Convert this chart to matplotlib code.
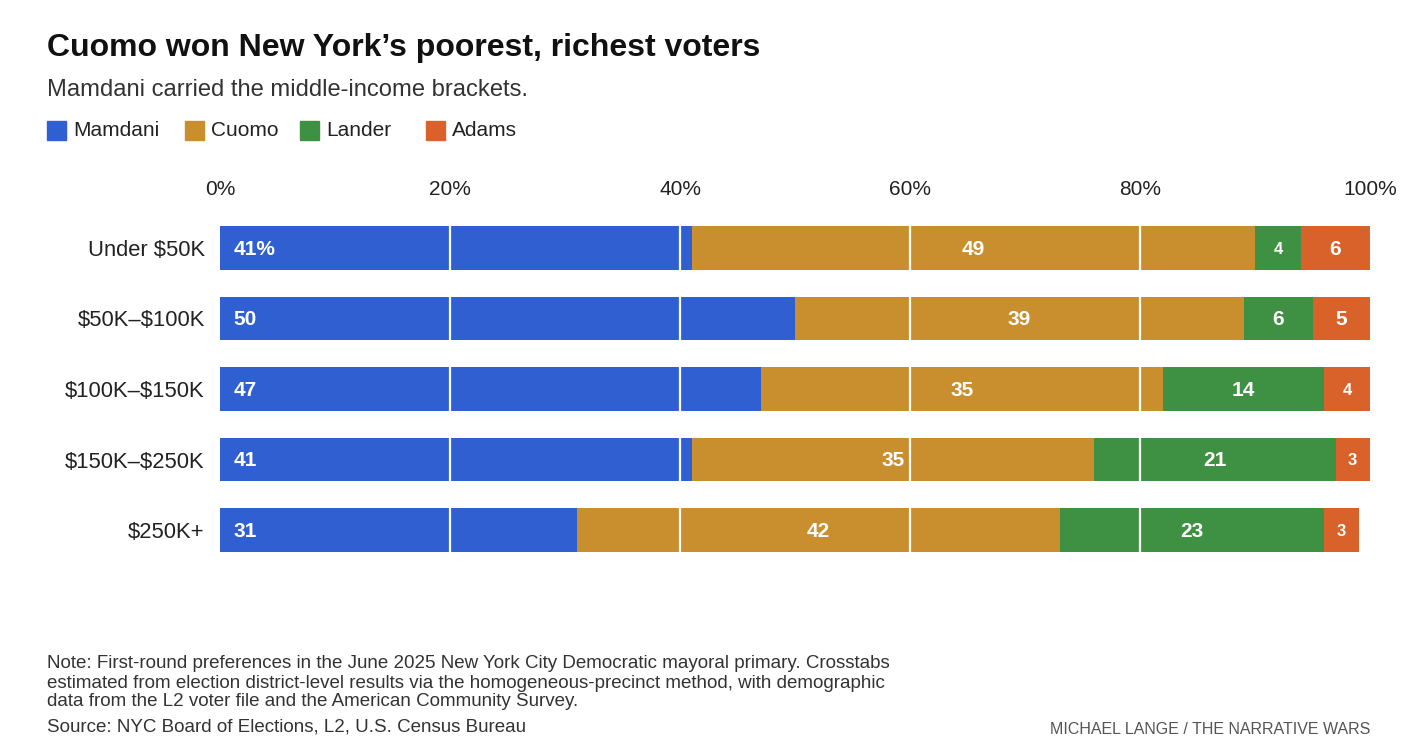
import matplotlib.pyplot as plt
from matplotlib.patches import Rectangle

plt.rcParams['font.family'] = ['Liberation Sans', 'DejaVu Sans']
plt.rcParams['text.parse_math'] = False

brackets = ["Under $50K", "$50K–$100K", "$100K–$150K", "$150K–$250K", "$250K+"]
candidates = ["Mamdani", "Cuomo", "Lander", "Adams"]
mamdani = [41, 50, 47, 41, 31]
cuomo = [49, 39, 35, 35, 42]
lander = [4, 6, 14, 21, 23]
adams = [6, 5, 4, 3, 3]
colors = ["#2f5fd0", "#c98f2e", "#3e9142", "#d9622b"]
ticks = [0, 20, 40, 60, 80, 100]

W, H = 1420, 750
fig = plt.figure(figsize=(W / 100, H / 100), dpi=100)

# axes placed in pixel terms: 0% at x=220, 100% at x=1370
ax = fig.add_axes([220 / W, 1 - 565.25 / H, 1150 / W, 352.5 / H])

series = [mamdani, cuomo, lander, adams]
left = [0] * len(brackets)
for k, vals in enumerate(series):
    ax.barh(range(len(brackets)), vals, left=left, height=0.62,
            color=colors[k], zorder=1)
    for i, v in enumerate(vals):
        if k == 0:
            txt = f"{v}%" if i == 0 else f"{v}"
            ax.text(left[i] + 1.2, i + 0.02, txt, ha="left", va="center",
                    color="white", fontsize=15, fontweight="bold", zorder=3)
        else:
            fs = 12 if v < 5 else 15
            ax.text(left[i] + v / 2, i + 0.02, f"{v}", ha="center", va="center",
                    color="white", fontsize=fs, fontweight="bold", zorder=3)
    left = [a + b for a, b in zip(left, vals)]

for t in ticks[1:-1]:
    ax.axvline(t, color="white", lw=1.6, zorder=2)

ax.set_xlim(0, 100)
ax.set_ylim(4.5, -0.5)
ax.xaxis.tick_top()
ax.set_xticks(ticks)
ax.set_xticklabels([f"{t}%" for t in ticks], fontsize=15, color="#222222")
ax.set_yticks(range(len(brackets)))
ax.set_yticklabels(brackets, fontsize=15.8, color="#222222")
ax.tick_params(length=0)
ax.tick_params(axis="x", pad=10)
ax.tick_params(axis="y", pad=11)
for s in ax.spines.values():
    s.set_visible(False)

# header
fig.text(47 / W, 1 - 48 / H, "Cuomo won New York’s poorest, richest voters",
         fontsize=23, fontweight="bold", color="#111111", va="center")
fig.text(47 / W, 1 - 90 / H, "Mamdani carried the middle-income brackets.",
         fontsize=17.1, color="#333333", va="center")

# legend
leg_box = [47, 185, 300, 426]
for x0, name, c in zip(leg_box, candidates, colors):
    fig.patches.append(Rectangle((x0 / W, 1 - 140 / H), 19 / W, 19 / H,
                                 transform=fig.transFigure, color=c))
    fig.text((x0 + 26) / W, 1 - 131 / H, name, fontsize=15, color="#222222",
             va="center")

# footer
note_lines = [
    "Note: First-round preferences in the June 2025 New York City Democratic mayoral primary. Crosstabs",
    "estimated from election district-level results via the homogeneous-precinct method, with demographic",
    "data from the L2 voter file and the American Community Survey.",
]
for y, line in zip([663, 683, 702], note_lines):
    fig.text(47 / W, 1 - y / H, line, fontsize=13.5, color="#333333",
             va="center")
fig.text(47 / W, 1 - 727 / H, "Source: NYC Board of Elections, L2, U.S. Census Bureau",
         fontsize=13.5, color="#333333", va="center")
fig.text(1370 / W, 1 - 729 / H, "MICHAEL LANGE / THE NARRATIVE WARS",
         fontsize=11.5, color="#555555", va="center", ha="right")

fig.savefig("out.png", dpi=100, facecolor="white")
